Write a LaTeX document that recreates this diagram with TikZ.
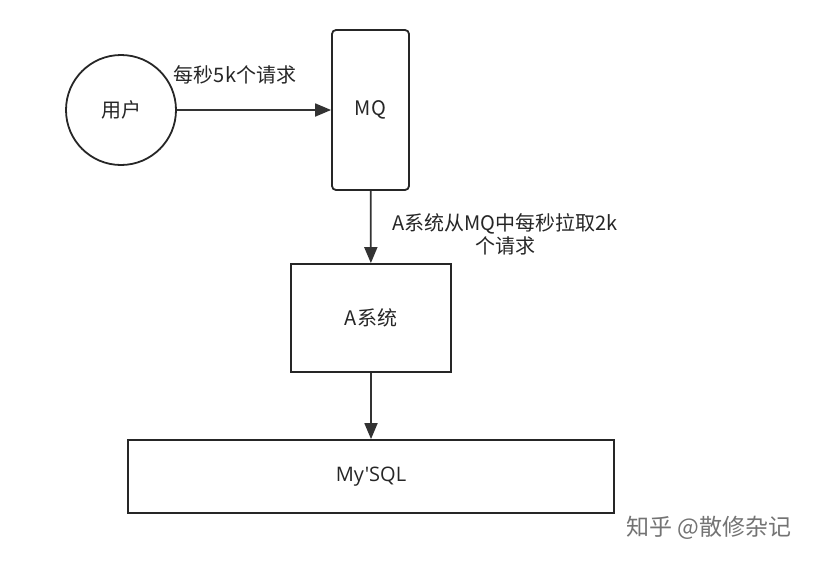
\documentclass[tikz,border=0pt]{standalone}
\usepackage{fontspec}
\setmainfont{Noto Sans CJK SC}
\newfontfamily\latinf{Open Sans}
\usetikzlibrary{arrows.meta}
\begin{document}
\begin{tikzpicture}[x=1pt,y=-1pt,
  box/.style={draw=black!85,line width=1.8pt,inner sep=0pt},
  arr/.style={-{Triangle[length=16pt,width=13pt]},line width=1.8pt,draw=black!80},
  lbl/.style={font=\fontsize{20}{23}\selectfont,text=black!85}]
\useasboundingbox (0,0) rectangle (818,562);
\node[box,circle,minimum size=110pt,lbl] (u) at (121,110) {用户};
\node[box,rounded corners=4pt,minimum width=77pt,minimum height=160pt,lbl] (mq) at (370.5,110) {MQ};
\node[box,minimum width=160pt,minimum height=108pt,lbl] (a) at (371,318) {A系统};
\node[box,minimum width=486pt,minimum height=73pt,lbl] (db) at (371,476.5) {\latinf My'SQL};
\draw[arr] (u) -- (mq);
\draw[arr] (mq) -- (a);
\draw[arr] (a) -- (db);
\node[lbl] (l1) at (235,75) {每秒5k个请求};
\node[lbl,align=center,anchor=west] (l2) at (389,234) {A系统从MQ中每秒拉取2k\\个请求};
\node[font=\fontsize{23}{26}\selectfont,text=black!55] (w) at (709,528) {知乎 @散修杂记};
\end{tikzpicture}
\end{document}
